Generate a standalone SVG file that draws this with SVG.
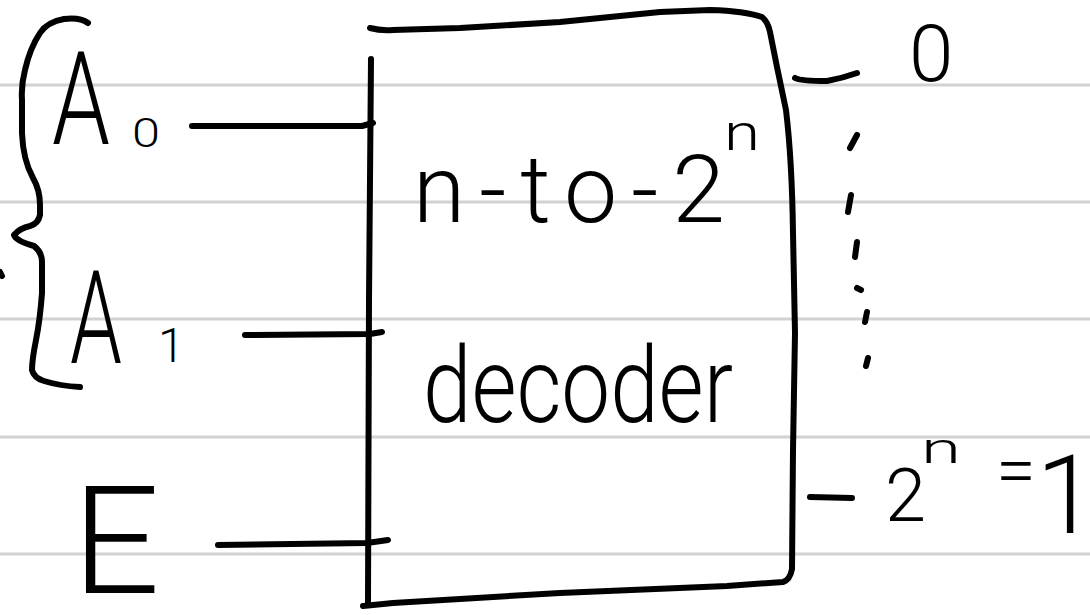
<svg xmlns="http://www.w3.org/2000/svg" width="1090" height="615" viewBox="0 0 1090 615">
  <style>
    .rule { stroke: #d2d2d2; stroke-width: 3; }
    .pen { fill: none; stroke: #000; stroke-width: 6; stroke-linecap: round; stroke-linejoin: round; }
    .hand { font-family: Roboto, "Liberation Sans", sans-serif; font-weight: 300; fill: #000; }
  </style>

  <rect x="0" y="0" width="1090" height="615" fill="#fff"/>

  <!-- ruled notebook lines -->
  <g id="ruling">
    <line class="rule" x1="0" y1="85" x2="1090" y2="85"/>
    <line class="rule" x1="0" y1="202" x2="1090" y2="202"/>
    <line class="rule" x1="0" y1="319" x2="1090" y2="319"/>
    <line class="rule" x1="0" y1="437" x2="1090" y2="437"/>
    <line class="rule" x1="0" y1="554" x2="1090" y2="554"/>
  </g>

  <!-- curly brace grouping the address inputs -->
  <g id="address-brace">
    <path class="pen" d="M88,23 Q80,17 64,19 Q47,22 40,33 Q30,48 25,70 Q21,85 22,100 L22,133 Q23,160 33,178 Q40,190 40,205 L40,215 Q38,224 30,226 Q20,228 14,235 Q16,241 34,246 Q42,252 42,262 L42,293 Q40,320 36,340 Q32,360 32,370 Q34,378 44,381 Q60,386 80,387"/>
    <path class="pen" d="M0,272 L2,276"/>
  </g>

  <!-- input A0 -->
  <g id="input-a0">
    <text class="hand" x="52" y="144" font-size="130" textLength="58" lengthAdjust="spacingAndGlyphs">A</text>
    <text class="hand" x="132" y="147" font-size="40" textLength="28" lengthAdjust="spacingAndGlyphs">0</text>
  </g>

  <!-- input A1 -->
  <g id="input-a1">
    <text class="hand" x="70" y="363" font-size="130" textLength="52" lengthAdjust="spacingAndGlyphs">A</text>
    <text class="hand" x="158" y="362" font-size="48">1</text>
  </g>

  <!-- enable input -->
  <g id="input-e">
    <text class="hand" x="72" y="593" font-size="150" textLength="88" lengthAdjust="spacingAndGlyphs">E</text>
  </g>

  <!-- decoder block -->
  <g id="decoder">
    <path class="pen" d="M371,59 L369,300 L368,603"/>
    <path class="pen" d="M370,28 Q381,31 393,30 L460,28 L560,22 L660,12 L710,10 Q745,11 762,17 Q768,22 770,32 L777,67 L786,110 Q792,160 793,233 L795,333 L793,450 L792,569 Q790,580 783,582 L727,586 L560,593 L393,603 L363,606"/>
    <text class="hand" x="413" y="222" font-size="95" textLength="312" lengthAdjust="spacing">n-to-2</text>
    <text class="hand" x="724" y="150" font-size="50" textLength="36" lengthAdjust="spacingAndGlyphs">n</text>
    <text class="hand" x="423" y="422" font-size="105" textLength="310" lengthAdjust="spacingAndGlyphs">decoder</text>
  </g>

  <!-- wires into and out of the decoder -->
  <g id="connectors">
    <path class="pen" d="M192,126 L362,126 L373,123"/>
    <path class="pen" d="M245,335 L370,334 L382,332"/>
    <path class="pen" d="M218,545 L367,543 L388,540"/>
    <path class="pen" d="M795,78 Q800,81 827,81 Q843,78 857,73"/>
    <path class="pen" d="M810,497 L852,498"/>
  </g>

  <!-- output 0 -->
  <g id="output-first">
    <text class="hand" x="909" y="81" font-size="80">0</text>
  </g>

  <!-- ellipsis between the outputs -->
  <g id="output-ellipsis">
    <path class="pen" d="M850,148 L857,135"/>
    <path class="pen" d="M848,212 L851,195"/>
    <path class="pen" d="M855,257 L857,242"/>
    <path class="pen" d="M857,288 L861,290"/>
    <path class="pen" d="M865,322 L867,312"/>
    <path class="pen" d="M866,366 L868,358"/>
  </g>

  <!-- last output 2^n - 1 -->
  <g id="output-last">
    <text class="hand" x="885" y="521" font-size="74">2</text>
    <text class="hand" x="921" y="463" font-size="42" textLength="40" lengthAdjust="spacingAndGlyphs">n</text>
    <text class="hand" x="996" y="495" font-size="72">=</text>
    <text class="hand" x="1036" y="533" font-size="110">1</text>
  </g>
</svg>
